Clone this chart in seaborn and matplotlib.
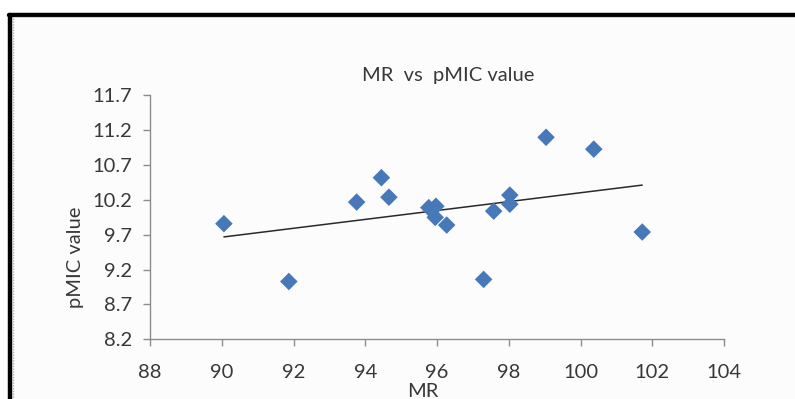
import matplotlib
matplotlib.use("Agg")
import matplotlib.pyplot as plt
import seaborn as sns
import pandas as pd
from matplotlib.lines import Line2D
from matplotlib.patches import Rectangle

# ---- data ----
mr = [90.06, 91.87, 93.76, 94.45, 94.66, 95.77, 95.97, 95.95, 96.27,
      97.30, 97.58, 98.03, 98.03, 99.04, 100.37, 101.72]
pmic = [9.86, 9.03, 10.17, 10.52, 10.24, 10.09, 10.11, 9.95, 9.84,
        9.06, 10.04, 10.27, 10.14, 11.10, 10.93, 9.74]
x_ticks = [88, 90, 92, 94, 96, 98, 100, 102, 104]
y_ticks = [8.2, 8.7, 9.2, 9.7, 10.2, 10.7, 11.2, 11.7]
title = "MR  vs  pMIC value"
x_label = "MR"
y_label = "pMIC value"

df = pd.DataFrame({"MR": mr, "pMIC": pmic})

sns.set_style("white")
plt.rcParams["font.family"] = ["Lato", "DejaVu Sans"]

W, H = 795, 399
fig = plt.figure(figsize=(W / 100, H / 100), dpi=100)
fig.patch.set_facecolor("white")

# outer chart-area frame (black, cut at right/bottom) and pale interior
fig.patches.append(Rectangle((12 / W, -0.1), 1.1, 1 - 16 / H + 0.1,
                             transform=fig.transFigure, facecolor="#fcfcfc",
                             edgecolor="none", zorder=-5))
fig.lines.append(Line2D([10 / W, 10 / W], [-0.1, 1 - 14.5 / H],
                        transform=fig.transFigure, color="black", lw=3.2,
                        zorder=-4))
fig.lines.append(Line2D([8.5 / W, 1.1], [1 - 14.5 / H, 1 - 14.5 / H],
                        transform=fig.transFigure, color="black", lw=3.2,
                        zorder=-4))
fig.lines.append(Line2D([13 / W, 13 / W], [-0.1, 1 - 17 / H],
                        transform=fig.transFigure, color="#b0b0b0", lw=1,
                        ls=(0, (1, 1)), zorder=-4))
fig.lines.append(Line2D([13 / W, 1.1], [1 - 17 / H, 1 - 17 / H],
                        transform=fig.transFigure, color="#d0d0d0", lw=0.8,
                        zorder=-4))

left, right, top, bottom = 150, 724, 95.5, 339.3
ax = fig.add_axes([left / W, 1 - bottom / H, (right - left) / W, (bottom - top) / H])
ax.set_facecolor("none")
ax.set_zorder(2)

sns.regplot(data=df, x="MR", y="pMIC", ax=ax, ci=None, marker="D",
            scatter_kws={"s": 80, "color": "#4779b9", "edgecolors": "none",
                         "alpha": 1, "zorder": 3},
            line_kws={"color": "#2a2a2a", "lw": 1.1, "zorder": 2})

ax.set_xlim(88, 104)
ax.set_ylim(8.2, 11.7)
ax.set_xticks(x_ticks)
ax.set_yticks(y_ticks)
ax.set_xticklabels([str(v) for v in x_ticks])
ax.set_yticklabels([f"{v:.1f}" for v in y_ticks])
ax.set_xlabel("")
ax.set_ylabel("")

for s in ["top", "right"]:
    ax.spines[s].set_visible(False)
for s in ["left", "bottom"]:
    ax.spines[s].set_color("#8c8c8c")
    ax.spines[s].set_linewidth(1.0)

ax.tick_params(axis="both", which="major", direction="out", length=5,
               width=1.0, color="#8c8c8c", labelcolor="#383838", labelsize=14.5)
ax.tick_params(axis="x", pad=13, bottom=True)
ax.tick_params(axis="y", pad=8, left=True)

fig.text(448.5 / W, 1 - 81 / H, title, ha="center", va="baseline",
         fontsize=14.5, color="#383838")
fig.text(75 / W, 1 - 257.5 / H, y_label, ha="center", va="center",
         rotation=90, fontsize=14.5, color="#383838")
fig.text(423 / W, 1 - 397 / H, x_label, ha="center", va="baseline",
         fontsize=14.5, color="#383838")

fig.savefig("out.png", dpi=100)
